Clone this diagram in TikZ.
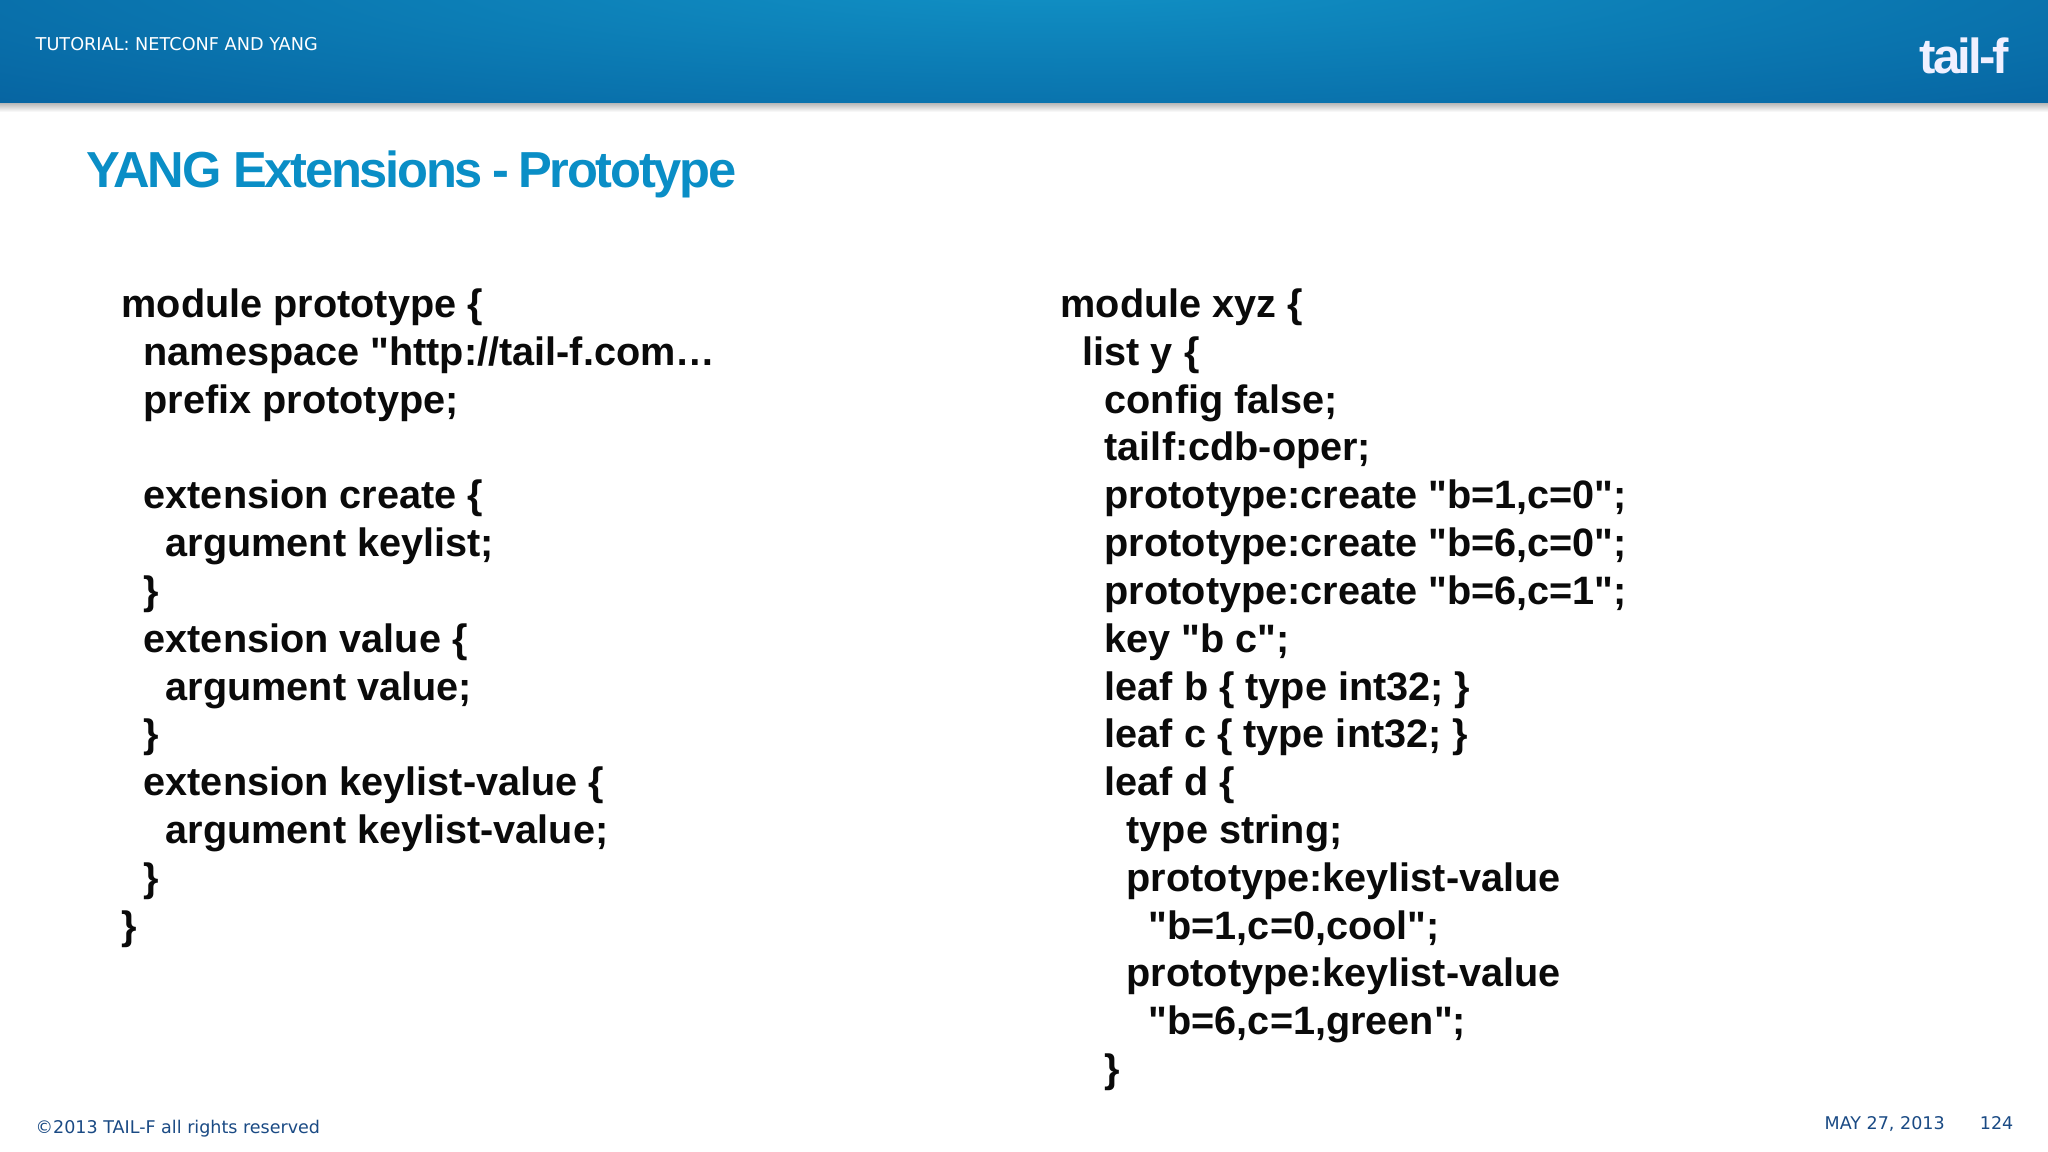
\documentclass[tikz,border=0pt]{standalone}
\usepackage{fontspec}
\newfontfamily\codefont{Liberation Sans}
\newfontfamily\verdfont{DejaVu Sans}
\newfontfamily\titlefont[LetterSpace=-4.5]{Liberation Sans}
\newfontfamily\logofont[LetterSpace=-6]{Liberation Sans}
\usetikzlibrary{positioning}
\definecolor{headdark}{RGB}{3,86,150}
\definecolor{headlight}{RGB}{17,146,198}
\definecolor{titleblue}{RGB}{10,142,198}
\definecolor{footblue}{RGB}{26,74,132}
\definecolor{codeblack}{RGB}{10,10,10}
\newcommand{\tb}{\hspace*{0.22cm}}
\tikzset{codetext/.style={anchor=north west, inner sep=0pt, align=left, text=codeblack, font=\fontsize{11.27}{13.6}\selectfont\codefont\bfseries},
foottext/.style={inner sep=0pt, text=footblue, font=\fontsize{4.98}{6}\selectfont\verdfont}}

\begin{document}
\begin{tikzpicture}[x=0.01cm, y=-0.01cm]
\useasboundingbox (0,0) rectangle (2048,1152);
\fill[white] (0,0) rectangle (2048,1152);
% header band
\begin{scope}
\clip (0,0) rectangle (2048,104);
\fill[headdark] (0,0) rectangle (2048,104);
\shade[inner color=headlight, outer color=headdark] (1060,-20) ellipse (1900 and 240);
\end{scope}
\shade[top color=black!25, bottom color=white] (0,104) rectangle (2048,112);
\node[anchor=base west, inner sep=0pt, text=white, font=\fontsize{5.03}{6}\selectfont\verdfont] (tutorial) at (35,51) {TUTORIAL: NETCONF AND YANG};
\node[anchor=base west, inner sep=0pt, text=blue!6!white, font=\fontsize{14}{15}\selectfont\logofont\bfseries] (logo) at (1919,74) {tail-f};
% title
\node[anchor=base west, inner sep=0pt, text=titleblue, font=\fontsize{14.4}{16}\selectfont\titlefont\bfseries] (slidetitle) at (86,188) {YANG Extensions\hspace{-0.05em} -\hspace{-0.05em} Prototype};
% the two modules
\node[codetext] (protomodule) at (121,288) {module prototype \{\\
\tb namespace "http://tail-f.com…\\
\tb prefix prototype;\\
\mbox{}\\
\tb extension create \{\\
\tb\tb argument keylist;\\
\tb \}\\
\tb extension value \{\\
\tb\tb argument value;\\
\tb \}\\
\tb extension keylist-value \{\\
\tb\tb argument keylist-value;\\
\tb \}\\
\}};
\node[codetext] (xyzmodule) at (1060,288) {module xyz \{\\
\tb list y \{\\
\tb\tb config false;\\
\tb\tb tailf:cdb-oper;\\
\tb\tb prototype:create "b=1,c=0";\\
\tb\tb prototype:create "b=6,c=0";\\
\tb\tb prototype:create "b=6,c=1";\\
\tb\tb key "b c";\\
\tb\tb leaf b \{ type int32; \}\\
\tb\tb leaf c \{ type int32; \}\\
\tb\tb leaf d \{\\
\tb\tb\tb type string;\\
\tb\tb\tb prototype:keylist-value\\
\tb\tb\tb\tb "b=1,c=0,cool";\\
\tb\tb\tb prototype:keylist-value\\
\tb\tb\tb\tb "b=6,c=1,green";\\
\tb\tb \}};
% footer
\node[foottext, anchor=base west] (copyright) at (35,1133) {©2013 TAIL-F all rights reserved};
\node[foottext, anchor=base west] (slidedate) at (1824,1129) {MAY 27, 2013};
\node[foottext, anchor=base east] (pagenum) at (2014,1129) {124};
\end{tikzpicture}
\end{document}
